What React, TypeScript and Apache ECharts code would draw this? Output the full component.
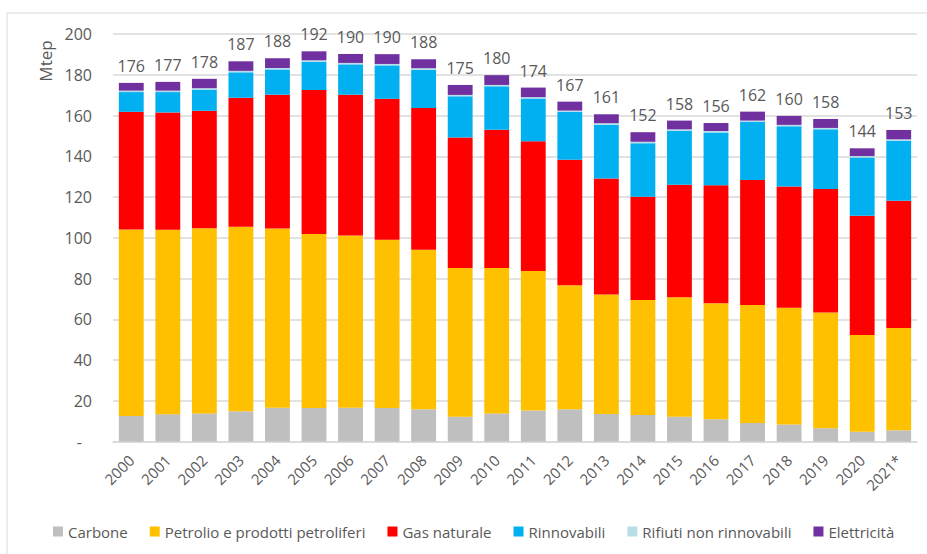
import React, { useEffect, useRef } from "react";
import * as echarts from "echarts";

const years = ["2000","2001","2002","2003","2004","2005","2006","2007","2008","2009","2010","2011","2012","2013","2014","2015","2016","2017","2018","2019","2020","2021*"];
const carbone = [12.5,13.4,13.8,14.8,16.6,16.5,16.6,16.5,15.8,12.2,13.8,15.2,15.8,13.5,13.0,12.2,10.9,9.1,8.4,6.5,4.8,5.5];
const petrolio = [91.5,90.5,90.9,90.6,87.9,85.4,84.5,82.5,78.3,72.9,71.3,68.5,60.9,58.6,56.5,58.6,57.0,57.9,57.3,56.8,47.5,50.2];
const gas = [57.8,57.6,57.6,63.3,65.7,70.6,69.1,69.2,69.6,64.1,67.9,63.7,61.6,57.0,50.6,55.2,57.9,61.4,59.4,60.6,58.5,62.4];
const rinnovabili = [9.7,10.0,10.4,12.5,12.4,13.9,14.9,16.4,18.8,20.2,21.3,20.9,23.4,26.4,26.3,26.5,25.9,28.4,29.6,29.3,28.6,29.5];
const rifiuti = [0.7,0.7,0.7,0.7,0.7,0.7,0.7,0.7,0.7,0.7,0.7,0.7,0.7,0.7,0.7,0.7,0.7,0.7,0.7,0.7,0.7,0.7];
const elettricita = [3.8,4.3,4.6,4.7,4.8,4.4,4.4,4.8,4.4,4.9,4.8,4.7,4.4,4.4,4.7,4.3,3.9,4.4,4.4,4.4,3.8,4.6];
const totals = [176,177,178,187,188,192,190,190,188,175,180,174,167,161,152,158,156,162,160,158,144,153];

const FONT = "'Open Sans', sans-serif";
const TXT = "#595959";

export default function App() {
  const ref = useRef<HTMLDivElement>(null);
  useEffect(() => {
    if (!ref.current) return;
    const chart = echarts.init(ref.current, null, { renderer: "svg" });
    const mk = (name: string, data: number[], color: string, extra: any = {}) => ({
      name,
      type: "bar",
      stack: "total",
      data,
      barCategoryGap: "32%",
      itemStyle: { color },
      emphasis: { disabled: true },
      ...extra,
    });
    chart.setOption({
      animation: false,
      textStyle: { fontFamily: FONT },
      graphic: [
        {
          type: "rect",
          shape: { x: 7, y: 13, width: 960, height: 600 },
          style: { fill: "none", stroke: "#D9D9D9", lineWidth: 1 },
          silent: true,
        },
        {
          type: "text",
          x: 45,
          y: 61,
          rotation: Math.PI / 2,
          style: {
            text: "Mtep",
            fontFamily: FONT,
            fontSize: 17,
            fill: TXT,
            align: "center",
            verticalAlign: "middle",
          },
        },
      ],
      grid: { left: 113, right: 10, top: 34, bottom: 112.5, containLabel: false },
      legend: {
        bottom: 15,
        left: 53,
        padding: 0,
        itemWidth: 10,
        itemHeight: 10,
        itemGap: 22,
        icon: "rect",
        textStyle: { fontFamily: FONT, fontSize: 15, color: TXT },
        data: ["Carbone", "Petrolio e prodotti petroliferi", "Gas naturale", "Rinnovabili", "Rifiuti non rinnovabili", "Elettricità"],
      },
      xAxis: {
        type: "category",
        data: years,
        axisTick: { show: false },
        axisLine: { lineStyle: { color: "#D9D9D9", width: 1.5 } },
        axisLabel: { rotate: 45, interval: 0, margin: 16, fontFamily: FONT, fontSize: 15, color: TXT },
      },
      yAxis: {
        type: "value",
        min: 0,
        max: 200,
        interval: 20,
        axisLine: { show: false },
        axisTick: { show: false },
        splitLine: { lineStyle: { color: "#D9D9D9", width: 1.5 } },
        axisLabel: {
          margin: 21,
          fontFamily: FONT,
          fontSize: 16,
          color: TXT,
          formatter: (v: number) => (v === 0 ? "{z|-}" : String(v)),
          rich: { z: { fontFamily: FONT, fontSize: 16, color: TXT, padding: [0, 10, 0, 0] } },
        },
      },
      series: [
        mk("Carbone", carbone, "#BFBFBF"),
        mk("Petrolio e prodotti petroliferi", petrolio, "#FFC000"),
        mk("Gas naturale", gas, "#FF0000"),
        mk("Rinnovabili", rinnovabili, "#00B0F0"),
        mk("Rifiuti non rinnovabili", rifiuti, "#B7DEE8"),
        mk("Elettricità", elettricita, "#7030A0", {
          label: {
            show: true,
            position: "top",
            distance: 9,
            fontFamily: FONT,
            fontSize: 16,
            color: TXT,
            formatter: (p: any) => String(totals[p.dataIndex]),
          },
        }),
      ],
    });
    return () => chart.dispose();
  }, []);
  return <div ref={ref} style={{ position: "absolute", left: 0, top: 0, width: 927, height: 554 }} />;
}
